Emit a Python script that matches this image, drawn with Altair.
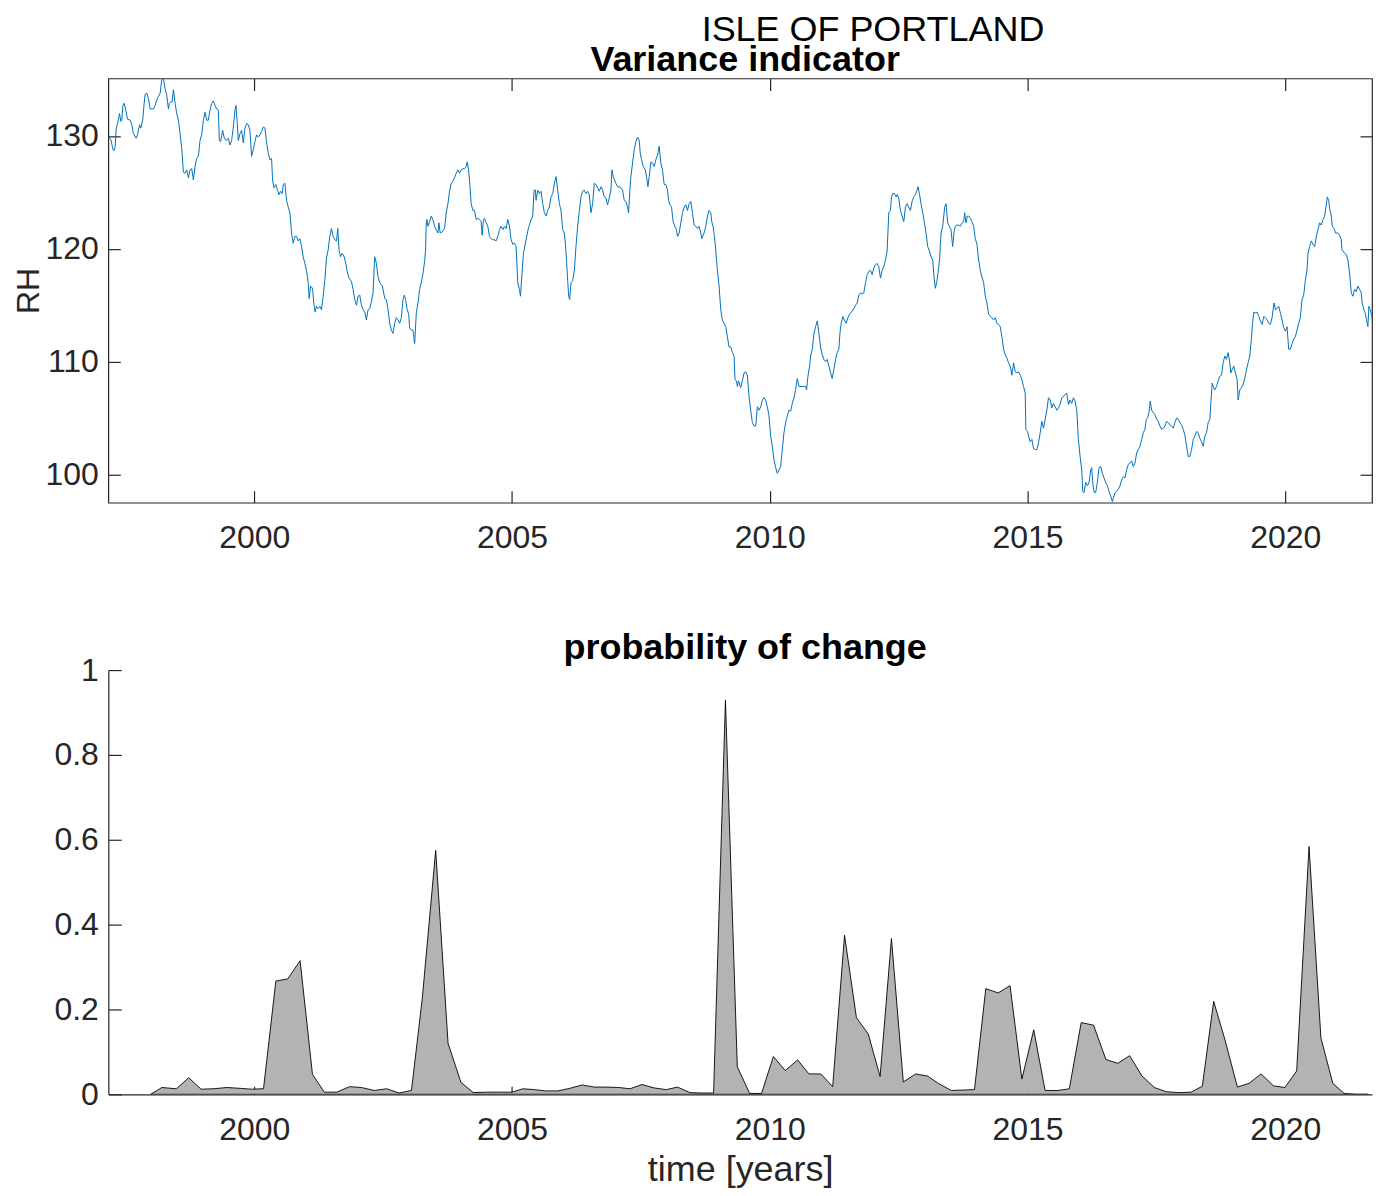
import altair as alt
import pandas as pd

# ---------------- data ----------------
# Variance indicator (RH) : (decimal year, value)
rh_1997_2003 = [
    (1997.174, 130.0), (1997.226, 129.6), (1997.258, 128.8), (1997.284, 128.7), (1997.303, 129.1),
    (1997.323, 130.7), (1997.349, 131.1), (1997.368, 131.5), (1997.387, 132.0), (1997.413, 131.3),
    (1997.432, 131.4), (1997.452, 132.7), (1997.478, 132.9), (1997.504, 132.4), (1997.542, 131.5),
    (1997.594, 131.4), (1997.626, 131.0), (1997.658, 130.2), (1997.710, 129.8), (1997.736, 130.1),
    (1997.775, 131.0), (1997.800, 130.7), (1997.839, 131.5), (1997.865, 132.9), (1997.884, 133.7),
    (1997.917, 133.8), (1997.949, 133.3), (1997.981, 132.4), (1998.046, 132.4), (1998.078, 132.7),
    (1998.110, 133.2), (1998.142, 133.5), (1998.175, 133.8), (1998.207, 135.0), (1998.239, 135.1),
    (1998.271, 134.2), (1998.304, 133.6), (1998.336, 132.4), (1998.355, 132.9), (1998.381, 133.0),
    (1998.407, 133.0), (1998.433, 134.1), (1998.465, 132.9), (1998.497, 132.0), (1998.530, 131.4),
    (1998.562, 130.2), (1998.594, 128.9), (1998.626, 126.8), (1998.659, 126.7), (1998.691, 127.0),
    (1998.723, 126.3), (1998.755, 127.0), (1998.788, 127.1), (1998.820, 126.1), (1998.852, 127.3),
    (1998.884, 128.0), (1998.917, 128.2), (1998.949, 129.6), (1998.981, 130.1), (1999.014, 131.4),
    (1999.046, 132.1), (1999.078, 131.4), (1999.110, 131.4), (1999.143, 132.3), (1999.175, 132.9),
    (1999.207, 133.1), (1999.240, 132.7), (1999.272, 132.4), (1999.304, 132.3), (1999.323, 129.6),
    (1999.349, 129.5), (1999.388, 130.5), (1999.414, 129.9), (1999.452, 129.6), (1999.498, 129.8),
    (1999.530, 129.2), (1999.562, 129.6), (1999.595, 130.8), (1999.627, 132.3), (1999.646, 132.7),
    (1999.672, 131.1), (1999.691, 129.6), (1999.724, 130.2), (1999.756, 130.5), (1999.788, 129.4),
    (1999.820, 130.7), (1999.853, 131.1), (1999.885, 131.0), (1999.917, 130.5), (1999.949, 128.2),
    (1999.982, 128.8), (2000.014, 129.5), (2000.046, 130.1), (2000.079, 129.9), (2000.111, 130.1),
    (2000.143, 130.4), (2000.175, 130.8), (2000.208, 130.7), (2000.240, 129.4), (2000.272, 128.5),
    (2000.304, 127.9), (2000.337, 128.0), (2000.356, 126.1), (2000.382, 125.4), (2000.421, 125.7),
    (2000.453, 125.2), (2000.479, 124.8), (2000.511, 125.1), (2000.543, 124.9), (2000.563, 125.7),
    (2000.595, 125.8), (2000.627, 124.3), (2000.660, 123.7), (2000.692, 123.2), (2000.724, 121.4),
    (2000.756, 120.5), (2000.789, 121.1), (2000.821, 121.1), (2000.853, 120.7), (2000.885, 120.9),
    (2000.918, 120.2), (2000.950, 119.3), (2000.982, 118.7), (2001.014, 118.1), (2001.047, 117.0),
    (2001.066, 115.6), (2001.092, 116.7), (2001.131, 116.5), (2001.156, 115.2), (2001.182, 114.4),
    (2001.208, 114.9), (2001.240, 114.7), (2001.273, 114.9), (2001.305, 114.6), (2001.337, 115.8),
    (2001.369, 117.2), (2001.402, 119.2), (2001.434, 119.9), (2001.466, 121.1), (2001.498, 121.8),
    (2001.531, 121.1), (2001.563, 120.8), (2001.595, 120.7), (2001.621, 121.8), (2001.647, 119.8),
    (2001.673, 119.3), (2001.705, 119.6), (2001.744, 119.3), (2001.776, 118.7), (2001.802, 118.0),
    (2001.840, 117.4), (2001.886, 117.1), (2001.918, 116.4), (2001.950, 115.5), (2001.983, 115.0),
    (2002.015, 115.8), (2002.047, 115.9), (2002.079, 115.0), (2002.112, 114.6), (2002.144, 114.4),
    (2002.176, 113.7), (2002.208, 114.6), (2002.241, 114.7), (2002.273, 115.3), (2002.305, 116.1),
    (2002.337, 119.3), (2002.370, 118.7), (2002.402, 117.5), (2002.434, 117.0), (2002.486, 116.7),
    (2002.531, 115.6), (2002.563, 115.5), (2002.596, 114.6), (2002.628, 113.4), (2002.660, 112.8),
    (2002.692, 112.5), (2002.725, 113.4), (2002.757, 113.9), (2002.789, 113.7), (2002.821, 113.4),
    (2002.854, 113.9), (2002.886, 115.5), (2002.912, 115.9), (2002.937, 115.5), (2002.963, 114.7),
    (2002.996, 114.2), (2003.015, 113.0), (2003.047, 112.8), (2003.080, 112.8), (2003.112, 111.6),
    (2003.144, 114.3), (2003.177, 115.2), (2003.209, 116.4),
]
rh_2003_2009 = [
    (2003.240, 117.0), (2003.273, 117.8), (2003.305, 118.9), (2003.324, 119.9), (2003.337, 122.3),
    (2003.350, 122.6), (2003.369, 122.0), (2003.402, 122.4), (2003.434, 122.9), (2003.466, 122.6),
    (2003.498, 122.0), (2003.531, 121.7), (2003.563, 121.4), (2003.582, 122.3), (2003.608, 121.4),
    (2003.647, 121.5), (2003.692, 121.8), (2003.724, 123.2), (2003.757, 124.0), (2003.789, 125.1),
    (2003.821, 125.8), (2003.853, 126.0), (2003.886, 126.3), (2003.918, 126.7), (2003.950, 127.0),
    (2003.982, 126.7), (2004.015, 127.0), (2004.047, 127.1), (2004.079, 127.1), (2004.112, 127.3),
    (2004.131, 127.7), (2004.157, 127.0), (2004.176, 126.1), (2004.208, 124.0), (2004.241, 123.4),
    (2004.273, 123.4), (2004.305, 122.6), (2004.337, 122.7), (2004.370, 122.6), (2004.402, 122.4),
    (2004.421, 121.2), (2004.447, 122.6), (2004.467, 122.7), (2004.499, 122.3), (2004.531, 122.0),
    (2004.563, 121.1), (2004.596, 120.9), (2004.628, 120.8), (2004.660, 120.8), (2004.692, 120.7),
    (2004.725, 121.1), (2004.757, 121.7), (2004.789, 122.0), (2004.822, 121.7), (2004.854, 122.0),
    (2004.886, 121.8), (2004.918, 122.6), (2004.951, 122.0), (2004.983, 120.8), (2005.015, 120.4),
    (2005.047, 120.5), (2005.080, 120.2), (2005.112, 117.0), (2005.144, 116.4), (2005.164, 115.8),
    (2005.189, 117.5), (2005.222, 119.6), (2005.260, 120.5), (2005.286, 121.1), (2005.312, 121.7),
    (2005.338, 122.1), (2005.370, 122.6), (2005.402, 122.9), (2005.428, 125.2), (2005.454, 125.2),
    (2005.467, 124.3), (2005.499, 125.2), (2005.532, 124.9), (2005.564, 125.1), (2005.596, 124.0),
    (2005.628, 123.2), (2005.661, 122.9), (2005.693, 123.4), (2005.725, 123.7), (2005.757, 124.6),
    (2005.790, 124.9), (2005.822, 125.8), (2005.854, 126.4), (2005.886, 125.2), (2005.919, 124.0),
    (2005.951, 123.4), (2005.983, 121.7), (2006.015, 121.4), (2006.035, 120.5), (2006.061, 118.7),
    (2006.080, 117.2), (2006.099, 115.8), (2006.119, 115.5), (2006.145, 117.0), (2006.177, 117.2),
    (2006.209, 118.1), (2006.241, 120.2), (2006.274, 122.0), (2006.306, 123.4), (2006.338, 124.6),
    (2006.370, 125.1), (2006.403, 125.2), (2006.435, 124.9), (2006.467, 125.1), (2006.499, 124.8),
    (2006.532, 123.2), (2006.564, 124.0), (2006.596, 125.8), (2006.629, 125.7), (2006.661, 125.4),
    (2006.693, 125.1), (2006.725, 125.5), (2006.758, 125.2), (2006.790, 124.6), (2006.822, 124.5),
    (2006.854, 123.9), (2006.887, 124.5), (2006.919, 125.2), (2006.938, 127.0), (2006.964, 126.4),
    (2006.990, 126.1), (2007.016, 125.8), (2007.048, 125.5), (2007.080, 125.5), (2007.113, 125.4),
    (2007.145, 125.2), (2007.177, 124.3), (2007.209, 124.2), (2007.242, 123.7), (2007.261, 123.2),
    (2007.287, 125.2), (2007.306, 126.4), (2007.339, 127.6), (2007.371, 128.8), (2007.403, 129.5),
    (2007.435, 129.9), (2007.468, 129.6), (2007.487, 128.5), (2007.513, 127.9), (2007.545, 127.3),
    (2007.584, 127.0), (2007.610, 126.4), (2007.636, 125.5), (2007.661, 126.4), (2007.694, 127.7),
    (2007.726, 127.6), (2007.758, 127.3), (2007.790, 127.9), (2007.823, 128.3), (2007.855, 129.1),
    (2007.887, 127.6), (2007.919, 127.0), (2007.952, 125.7), (2007.984, 125.7), (2008.016, 125.2),
    (2008.036, 124.3), (2008.061, 123.9), (2008.094, 123.7), (2008.126, 122.4), (2008.158, 122.0),
    (2008.190, 121.7), (2008.210, 121.1), (2008.242, 121.4), (2008.274, 122.3), (2008.307, 123.2),
    (2008.339, 123.7), (2008.371, 123.9), (2008.404, 123.4), (2008.436, 124.0), (2008.468, 124.2),
    (2008.500, 123.2), (2008.533, 122.1), (2008.565, 122.0), (2008.597, 121.8), (2008.629, 122.0),
    (2008.662, 121.4), (2008.681, 120.9), (2008.707, 121.2), (2008.733, 121.5), (2008.758, 122.0),
    (2008.791, 122.9), (2008.823, 123.4), (2008.855, 123.2), (2008.875, 122.4), (2008.900, 122.0),
    (2008.926, 121.1), (2008.952, 119.9), (2008.984, 118.1), (2009.017, 116.7), (2009.049, 114.6),
    (2009.081, 113.7), (2009.113, 113.4), (2009.146, 113.1), (2009.178, 112.2), (2009.210, 111.3),
    (2009.243, 111.3), (2009.275, 110.8), (2009.307, 110.5), (2009.326, 108.4), (2009.352, 108.3),
    (2009.372, 107.8), (2009.391, 108.3),
]
rh_2009_2015 = [
    (2009.436, 107.7), (2009.469, 108.3), (2009.501, 109.0), (2009.533, 109.1), (2009.565, 108.8),
    (2009.598, 106.9), (2009.630, 105.7), (2009.662, 104.6), (2009.694, 104.3), (2009.727, 104.3),
    (2009.759, 106.0), (2009.791, 105.7), (2009.824, 106.0), (2009.856, 106.6), (2009.888, 106.8),
    (2009.920, 106.6), (2009.953, 106.0), (2009.985, 105.2), (2010.017, 103.4), (2010.049, 102.5),
    (2010.082, 101.3), (2010.114, 100.6), (2010.146, 100.1), (2010.178, 100.4), (2010.211, 100.7),
    (2010.243, 102.2), (2010.275, 103.7), (2010.308, 104.6), (2010.340, 105.2), (2010.372, 105.7),
    (2010.404, 105.6), (2010.437, 106.3), (2010.469, 106.8), (2010.501, 107.5), (2010.533, 108.5),
    (2010.566, 107.8), (2010.630, 107.8), (2010.695, 107.8), (2010.714, 107.5), (2010.740, 108.7),
    (2010.772, 109.6), (2010.792, 110.5), (2010.824, 111.1), (2010.856, 112.5), (2010.888, 113.1),
    (2010.921, 113.6), (2010.953, 112.5), (2010.985, 111.3), (2011.018, 110.6), (2011.050, 110.2),
    (2011.082, 110.0), (2011.114, 110.2), (2011.147, 109.6), (2011.179, 109.0), (2011.211, 108.5),
    (2011.243, 109.3), (2011.276, 110.2), (2011.308, 110.8), (2011.340, 111.1), (2011.360, 112.5),
    (2011.385, 113.4), (2011.418, 114.0), (2011.456, 113.6), (2011.482, 113.4), (2011.515, 113.9),
    (2011.547, 114.2), (2011.586, 114.4), (2011.631, 114.7), (2011.663, 115.0), (2011.695, 115.2),
    (2011.727, 115.9), (2011.760, 116.1), (2011.792, 116.0), (2011.824, 116.1), (2011.857, 117.0),
    (2011.889, 117.7), (2011.921, 118.0), (2011.953, 118.1), (2011.986, 117.7), (2012.018, 118.3),
    (2012.050, 118.6), (2012.082, 118.7), (2012.115, 118.4), (2012.147, 117.4), (2012.179, 118.1),
    (2012.211, 118.4), (2012.244, 119.0), (2012.276, 119.8), (2012.308, 123.2), (2012.341, 123.4),
    (2012.360, 124.6), (2012.386, 124.9), (2012.418, 124.9), (2012.450, 124.6), (2012.470, 124.8),
    (2012.502, 124.5), (2012.534, 123.4), (2012.566, 122.9), (2012.599, 122.4), (2012.631, 123.7),
    (2012.663, 124.0), (2012.695, 123.7), (2012.728, 123.4), (2012.760, 124.2), (2012.792, 124.6),
    (2012.825, 124.8), (2012.857, 125.2), (2012.876, 125.5), (2012.902, 124.9), (2012.934, 124.0),
    (2012.967, 123.2), (2012.999, 122.3), (2013.031, 121.4), (2013.063, 120.2), (2013.096, 119.8),
    (2013.128, 119.3), (2013.160, 119.0), (2013.186, 117.5), (2013.212, 116.5), (2013.244, 117.2),
    (2013.276, 118.3), (2013.296, 119.3), (2013.322, 121.4), (2013.354, 122.0), (2013.393, 123.7),
    (2013.418, 124.0), (2013.451, 122.3), (2013.483, 122.0), (2013.515, 121.7), (2013.547, 120.2),
    (2013.573, 121.5), (2013.599, 122.0), (2013.631, 122.1), (2013.664, 122.1), (2013.696, 122.0),
    (2013.728, 122.3), (2013.760, 122.4), (2013.780, 123.2), (2013.806, 122.3), (2013.831, 122.9),
    (2013.857, 122.9), (2013.890, 122.7), (2013.922, 122.4), (2013.954, 122.0), (2013.986, 120.9),
    (2014.019, 120.4), (2014.051, 119.0), (2014.083, 118.1), (2014.115, 117.5), (2014.148, 117.0),
    (2014.180, 115.8), (2014.212, 115.2), (2014.245, 114.2), (2014.277, 114.0), (2014.309, 113.9),
    (2014.341, 113.7), (2014.374, 113.9), (2014.406, 113.4), (2014.438, 113.3), (2014.470, 113.1),
    (2014.503, 112.2), (2014.535, 111.1), (2014.567, 110.6), (2014.600, 110.3), (2014.632, 109.9),
    (2014.664, 109.6), (2014.696, 108.8), (2014.729, 109.9), (2014.761, 109.1), (2014.793, 109.0),
    (2014.826, 109.1), (2014.858, 108.8), (2014.890, 108.4), (2014.922, 107.8), (2014.955, 107.2),
    (2014.967, 104.0), (2015.000, 103.8), (2015.019, 103.4), (2015.051, 102.9), (2015.084, 103.1),
    (2015.116, 102.3), (2015.148, 102.2), (2015.180, 102.2), (2015.213, 102.8), (2015.245, 103.7),
    (2015.277, 104.7), (2015.310, 104.1), (2015.342, 104.9), (2015.374, 105.7), (2015.406, 106.8),
    (2015.439, 106.6), (2015.471, 105.9), (2015.503, 106.3), (2015.535, 106.0), (2015.568, 105.7),
    (2015.600, 105.9),
]
rh_2015_2021 = [
    (2015.631, 106.2), (2015.664, 106.8), (2015.696, 106.9), (2015.728, 107.1), (2015.760, 107.2),
    (2015.793, 106.2), (2015.825, 106.6), (2015.857, 106.3), (2015.889, 106.8), (2015.922, 106.5),
    (2015.954, 105.7), (2015.986, 103.1), (2016.019, 101.6), (2016.051, 100.4), (2016.070, 98.5),
    (2016.096, 98.4), (2016.128, 99.3), (2016.161, 99.0), (2016.193, 99.3), (2016.225, 100.4),
    (2016.244, 100.6), (2016.270, 99.0), (2016.296, 98.4), (2016.322, 98.4), (2016.354, 99.3),
    (2016.386, 100.6), (2016.419, 100.7), (2016.451, 100.1), (2016.483, 99.7), (2016.515, 99.3),
    (2016.548, 99.0), (2016.580, 98.5), (2016.612, 98.1), (2016.645, 97.6), (2016.664, 97.9),
    (2016.696, 98.4), (2016.728, 98.5), (2016.761, 98.7), (2016.793, 99.0), (2016.825, 99.5),
    (2016.858, 99.8), (2016.890, 99.7), (2016.922, 100.4), (2016.954, 100.9), (2016.987, 101.0),
    (2017.019, 101.2), (2017.051, 100.7), (2017.083, 101.0), (2017.116, 101.9), (2017.148, 102.2),
    (2017.180, 102.5), (2017.213, 103.1), (2017.245, 103.7), (2017.277, 104.0), (2017.303, 104.9),
    (2017.329, 105.0), (2017.354, 105.5), (2017.380, 106.5), (2017.406, 105.7), (2017.438, 105.5),
    (2017.471, 105.3), (2017.503, 104.9), (2017.535, 104.7), (2017.567, 104.3), (2017.600, 104.0),
    (2017.632, 104.1), (2017.664, 104.3), (2017.697, 104.7), (2017.729, 104.6), (2017.761, 104.4),
    (2017.793, 104.3), (2017.826, 104.1), (2017.858, 104.6), (2017.890, 105.0), (2017.922, 104.9),
    (2017.955, 104.6), (2017.987, 104.4), (2018.019, 104.0), (2018.052, 103.5), (2018.084, 102.5),
    (2018.116, 101.6), (2018.148, 101.6), (2018.181, 102.2), (2018.213, 103.1), (2018.245, 103.4),
    (2018.277, 103.8), (2018.310, 103.7), (2018.342, 103.2), (2018.374, 102.9), (2018.406, 102.5),
    (2018.439, 103.4), (2018.471, 103.7), (2018.503, 104.6), (2018.536, 104.9), (2018.555, 106.3),
    (2018.581, 108.1), (2018.607, 107.7), (2018.632, 107.5), (2018.665, 107.8), (2018.697, 108.3),
    (2018.729, 108.7), (2018.762, 108.8), (2018.794, 109.9), (2018.826, 110.5), (2018.858, 110.2),
    (2018.891, 110.8), (2018.923, 109.9), (2018.942, 109.0), (2018.968, 109.3), (2019.000, 109.6),
    (2019.033, 109.0), (2019.065, 108.4), (2019.084, 106.6), (2019.117, 107.5), (2019.149, 107.7),
    (2019.181, 108.0), (2019.213, 108.5), (2019.246, 109.3), (2019.278, 109.9), (2019.310, 110.5),
    (2019.342, 112.0), (2019.362, 113.3), (2019.388, 114.4), (2019.420, 114.3), (2019.452, 114.4),
    (2019.484, 114.0), (2019.517, 113.6), (2019.549, 113.3), (2019.581, 114.0), (2019.613, 113.9),
    (2019.646, 113.7), (2019.678, 113.4), (2019.710, 113.3), (2019.743, 113.9), (2019.762, 114.6),
    (2019.781, 115.2), (2019.807, 114.6), (2019.839, 114.7), (2019.872, 114.9), (2019.904, 114.3),
    (2019.936, 113.7), (2019.968, 113.0), (2020.001, 112.7), (2020.033, 113.1), (2020.065, 111.1),
    (2020.097, 111.1), (2020.130, 111.6), (2020.162, 112.0), (2020.194, 112.2), (2020.227, 112.8),
    (2020.259, 113.4), (2020.291, 113.9), (2020.323, 115.5), (2020.356, 115.9), (2020.388, 117.2),
    (2020.420, 118.1), (2020.439, 119.6), (2020.472, 120.2), (2020.504, 120.7), (2020.536, 120.4),
    (2020.569, 120.2), (2020.601, 121.1), (2020.633, 121.7), (2020.665, 122.3), (2020.698, 122.1),
    (2020.730, 122.6), (2020.762, 122.9), (2020.795, 123.9), (2020.814, 124.6), (2020.840, 124.3),
    (2020.865, 123.4), (2020.891, 122.9), (2020.911, 122.0), (2020.943, 121.8), (2020.975, 121.4),
    (2021.020, 121.4), (2021.053, 121.2), (2021.085, 120.8), (2021.098, 119.9), (2021.124, 119.8),
    (2021.149, 119.6), (2021.182, 119.5), (2021.214, 119.0), (2021.240, 118.1), (2021.259, 117.2),
    (2021.279, 116.1), (2021.311, 115.8), (2021.343, 116.4), (2021.375, 116.2), (2021.408, 116.7),
    (2021.440, 116.4), (2021.472, 116.1), (2021.491, 115.2), (2021.524, 114.6), (2021.550, 114.3),
    (2021.575, 113.7), (2021.601, 113.1), (2021.621, 114.9), (2021.646, 114.6), (2021.679, 114.0),
    (2021.711, 113.1), (2021.730, 113.7), (2021.763, 113.9), (2021.795, 113.7),
]

# probability of change
prob_year = [
    1997.99, 1998.21, 1998.49, 1998.73, 1998.97, 1999.21, 1999.47, 1999.73, 1999.95,
    2000.18, 2000.42, 2000.65, 2000.89, 2001.13, 2001.36, 2001.60, 2001.85,
    2002.08, 2002.33, 2002.57, 2002.81, 2003.05, 2003.26, 2003.52, 2003.76,
    2004.01, 2004.25, 2004.50, 2004.76, 2005.00, 2005.21, 2005.44, 2005.65, 2005.89,
    2006.12, 2006.36, 2006.60, 2006.83, 2007.07, 2007.29, 2007.52, 2007.76, 2007.99,
    2008.21, 2008.45, 2008.68, 2008.91, 2009.14, 2009.37, 2009.61, 2009.84,
    2010.07, 2010.30, 2010.54, 2010.76, 2010.99, 2011.22, 2011.45, 2011.68, 2011.91,
    2012.14, 2012.36, 2012.59, 2012.83, 2013.06, 2013.28, 2013.52, 2013.75, 2013.97,
    2014.19, 2014.43, 2014.66, 2014.89, 2015.12, 2015.34, 2015.59, 2015.81,
    2016.04, 2016.28, 2016.52, 2016.75, 2016.98, 2017.22, 2017.46, 2017.69, 2017.93,
    2018.17, 2018.39, 2018.61, 2018.83, 2019.07, 2019.30, 2019.53, 2019.77, 2019.99,
    2020.22, 2020.46, 2020.69, 2020.92, 2021.14, 2021.38, 2021.61,
]
prob_value = [
    0.0, 0.016, 0.013, 0.039, 0.012, 0.013, 0.016, 0.014, 0.012,
    0.013, 0.267, 0.272, 0.315, 0.047, 0.005, 0.005, 0.018,
    0.016, 0.009, 0.013, 0.003, 0.009, 0.226, 0.575, 0.120,
    0.028, 0.004, 0.005, 0.005, 0.005, 0.013, 0.011, 0.008, 0.008,
    0.014, 0.022, 0.017, 0.017, 0.016, 0.013, 0.023, 0.015, 0.011,
    0.017, 0.004, 0.003, 0.003, 0.929, 0.065, 0.002, 0.002,
    0.089, 0.056, 0.081, 0.048, 0.048, 0.018, 0.375, 0.181, 0.142,
    0.042, 0.367, 0.029, 0.048, 0.043, 0.025, 0.009, 0.010, 0.011,
    0.249, 0.239, 0.256, 0.036, 0.152, 0.009, 0.009, 0.013,
    0.169, 0.163, 0.082, 0.073, 0.091, 0.043, 0.016, 0.006, 0.004,
    0.005, 0.019, 0.219, 0.128, 0.017, 0.026, 0.048, 0.020, 0.016,
    0.055, 0.584, 0.133, 0.026, 0.002, 0.0, 0.0,
]

year_ticks = [2000, 2005, 2010, 2015, 2020]
rh_ticks = [100, 110, 120, 130]
prob_ticks = [0, 0.2, 0.4, 0.6, 0.8, 1]

# ---------------- styling ----------------
FONT = "Liberation Sans"
AX = "#262626"
W, H = 1266, 425

rh_points = rh_1997_2003 + rh_2003_2009 + rh_2009_2015 + rh_2015_2021
top_df = pd.DataFrame(rh_points, columns=["year", "RH"])
prob_df = pd.DataFrame({"year": prob_year, "p": prob_value})

xscale = alt.Scale(domain=[1997.17, 2021.681], nice=False, zero=False)
rhscale = alt.Scale(domain=[97.5, 135.1], nice=False, zero=False)
pscale = alt.Scale(domain=[0, 1], nice=False, zero=False)


def tick_axis(orient, values, size, labels=True, pad=10, fmt=None, **extra):
    kw = dict(
        orient=orient, values=values, offset=-size, tickSize=size,
        tickColor=AX, tickWidth=1.2, domain=False, grid=False,
        labels=labels, labelFont=FONT, labelFontSize=32, labelColor=AX,
        labelPadding=pad, labelOverlap=False, labelFlush=False,
    )
    if fmt:
        kw["format"] = fmt
    kw.update(extra)
    if "title" not in kw:
        kw["title"] = None
    return alt.Axis(**kw)


def domain_axis(orient):
    return alt.Axis(orient=orient, ticks=False, labels=False, grid=False,
                    domain=True, domainColor=AX, domainWidth=1.2, title=None)


# ---------------- top panel ----------------
top_line = alt.Chart(top_df).mark_line(color="#0072BD", strokeWidth=1, clip=True).encode(
    x=alt.X("year:Q", scale=xscale,
            axis=tick_axis("bottom", year_ticks, 12, pad=20, fmt="d")),
    y=alt.Y("RH:Q", scale=rhscale,
            axis=tick_axis("left", rh_ticks, 12, pad=10, title="RH",
                           titleFont=FONT, titleFontSize=32, titleFontWeight="normal",
                           titleColor=AX, titlePadding=0)),
)
top_mirror = alt.Chart(top_df).mark_line(opacity=0, clip=True).encode(
    x=alt.X("year:Q", scale=xscale, axis=tick_axis("top", year_ticks, 12, labels=False)),
    y=alt.Y("RH:Q", scale=rhscale, axis=tick_axis("right", rh_ticks, 12, labels=False)),
)
top = alt.layer(top_line, top_mirror).resolve_axis(
    x="independent", y="independent"
).properties(
    width=W, height=H,
    title=alt.TitleParams("Variance indicator", font=FONT, fontSize=36,
                          fontWeight="bold", color="black", anchor="middle",
                          offset=-1, dx=5),
    view=alt.ViewBackground(stroke=AX, strokeWidth=1.2),
)

# ---------------- bottom panel ----------------
area = alt.Chart(prob_df).mark_area(
    color="#b3b3b3", stroke="#000000", strokeWidth=0.9, line=False, clip=True
).encode(
    x=alt.X("year:Q", scale=xscale,
            axis=tick_axis("bottom", year_ticks, 8, pad=20, fmt="d",
                           title="time [years]", titleFont=FONT, titleFontSize=36,
                           titleFontWeight="normal", titleColor=AX, titlePadding=7)),
    y=alt.Y("p:Q", scale=pscale,
            axis=tick_axis("left", prob_ticks, 13, pad=10, fmt="~g")),
)
area_dom = alt.Chart(prob_df).mark_area(opacity=0).encode(
    x=alt.X("year:Q", scale=xscale, axis=domain_axis("bottom")),
    y=alt.Y("p:Q", scale=pscale, axis=domain_axis("left")),
)
bottom = alt.layer(area, area_dom).resolve_axis(
    x="independent", y="independent"
).properties(
    width=W, height=H,
    title=alt.TitleParams("probability of change", font=FONT, fontSize=36,
                          fontWeight="bold", color="black", anchor="middle",
                          offset=-12.5, dx=5),
)

chart = alt.vconcat(top, bottom, spacing=167.7, bounds="flush").properties(
    padding={"top": 2.5, "left": 3.5, "right": 0, "bottom": 0},
    background="white",
    title=alt.TitleParams("ISLE OF PORTLAND", font=FONT, fontSize=36,
                          fontWeight="normal", color="black", anchor="middle",
                          dx=181, offset=-7.9),
).configure_view(stroke=None)

chart.save("out.html", embed_options={"renderer": "svg", "actions": False})
